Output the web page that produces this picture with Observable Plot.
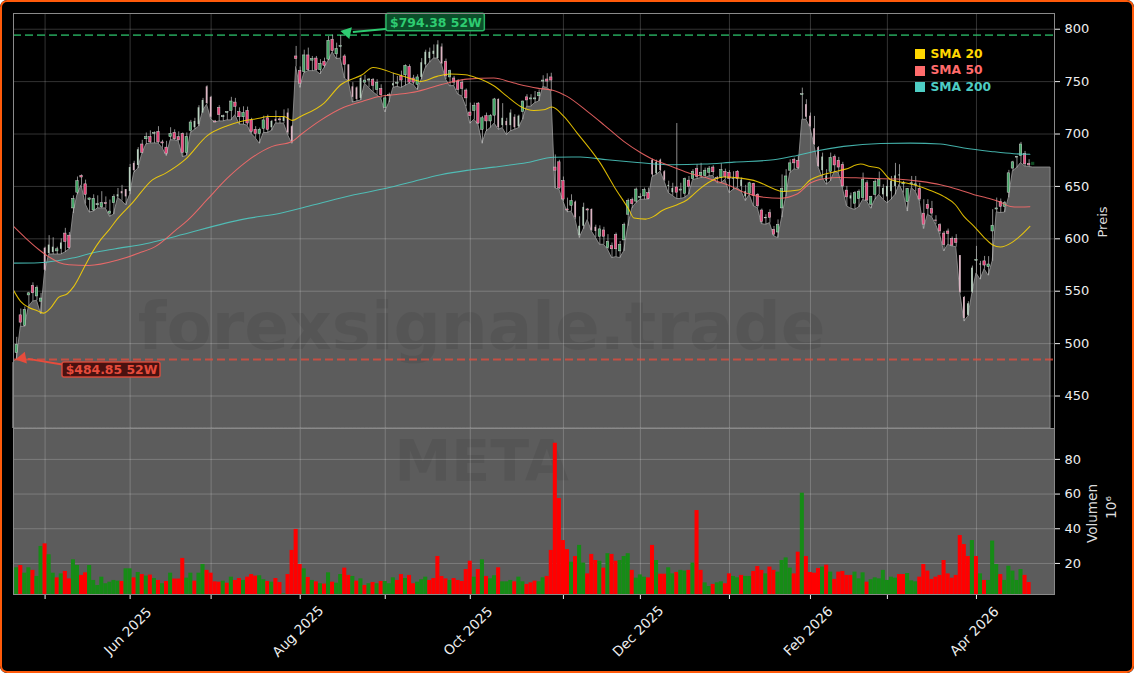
<!DOCTYPE html>
<html><head><meta charset="utf-8">
<script src="https://cdn.jsdelivr.net/npm/d3@7"></script>
<script src="https://cdn.jsdelivr.net/npm/@observablehq/plot@0.6"></script>
<style>
html,body{margin:0;padding:0;background:#fff;width:1134px;height:673px;overflow:hidden}
#fig{position:absolute;left:0;top:0;width:1134px;height:673px;background:#000;border-radius:7px;overflow:hidden;font-family:"DejaVu Sans",sans-serif}
#fig svg{position:absolute;left:0;display:block}
#edge{position:absolute;left:0;top:0;width:1134px;height:673px;box-sizing:border-box;border:2.5px solid #ff5a0a;border-radius:7px;pointer-events:none}
#legend{position:absolute;left:915px;top:46px;font-weight:bold;font-size:12.3px;line-height:16.4px}
#legend div{display:flex;align-items:center;height:16.4px}
#legend i{display:inline-block;width:10px;height:10px;margin-right:5.5px}
</style></head><body>
<div id="fig"><div id="edge"></div></div>
<script>
const opens=[491,527,517,546,555,545,540,591,586,587,
588,590,605,603,629,644,660,652,637,627,
632,630,634,624,634,640,645,647,645,672,
670,690,695,697,700,702,692,687,697,701,
697,700,682,703,706,709,720,745,735,712,
725,716,720,722,730,721,716,722,713,704,
700,705,715,706,714,714,712,720,707,774,
760,759,775,770,772,761,769,771,790,776,
783,774,766,745,744,734,749,751,751.5,742,
743,725,736,746,748,755,756,764,753,747,
754,766,772,776,772,783,769,754,753,750,
749,741.5,720.5,722,729,704,717,712,717.5,733,
708,712,708,716,707,721,735,733,733,736,
750,752,754,668,673,655,628,631.5,635,603,
612,628,628,611,602,608,591,593,603.5,588,
598.5,623,637,635.5,639,640.5,643.5,675,662,675,
664,650,644,649,646,643,655.5,657,666.5,660,
660,663,668,658,658,664,663,657,664,650,
640,643,652.5,642,627,619.5,624.5,608.5,606,629,
645,665,675.5,674.5,737,728,717,705,687,665,
655,664,678,674.5,670.5,646,638,633.5,638,639,
653,632.5,642,650,642,640,645,650,660,652,
635,652,651,647.5,624,632.5,628.5,617.5,613,605,
607,600,600,584,544,527,549,579,575,578.5,
573,607,628,635,630.5,644,667,677.5,679,681,671.5];
const highs=[506,533,535,549,558,555,548,592,603,601,
592,600,610,606,641,659,661,656,639,642,
641,645,640,637,642,648,651,647,671,674,
687,694,701,703,702,707,694,693,706,704,
702,701,701,713,715,727,734,746,736,713,
727,718,721.5,735,734,725,726,725.7,715,707,
705.6,717,718,713,722,716,723,724,708,783.6,
764,780,782,774,774,771,772.4,793,794.38,786.7,
794,775.6,766,749,745,755,756,753,753,751.8,
747,737,739,758,755,760,766,766,756,756.5,
772,780,782,785,789,786,771.5,761,755,751.8,
751.8,743,729.5,729.5,730,716.8,720,718.4,734,733.5,
729,715,723,718.4,718,731.5,737.5,737.5,740.6,742,
755.6,757.5,758,680,675,659,638.8,642,636,621,
634,629,628.5,613,612.4,611,604,596,605.5,597.5,
615,638,638.8,648.4,643,648.4,648.4,676,675,676,
665,655,653,710,653,658,659.5,666,670.7,672,
667.5,669,669.7,659.5,671.6,666.5,665,664,665,658,
651,654,653,643,628.4,623,627.7,611.8,618,661,
666,675.4,677,678.6,743.8,732.7,720,716.8,688,681.8,
666,681.8,680,677.7,673,650,643.6,645,646.8,662.7,
655.4,640.5,656.3,663.7,651.6,656,659.5,672,670.7,654.8,
648,659.5,659.5,653,637.3,637.3,635.7,622,614.4,607,
609.3,601.7,604,584,545,540,574,592.8,578.5,583.2,
583,627.8,638.9,638,635.7,665.3,674,678.6,692,683.4,675.5];
const lows=[485,516,516,535,540,541,528,569,585,585,
585,585,587,590,624,642,651,633,625,626,
629,629,629,621,623,639,636,632,642,663,
667,681,690,691,691,691,686.5,679,694,694,
693,678,679,701,704,707,722,728,714,711,
712,712,713,713,718,709,709,708,700,696,
690.7,701,701,703,710,710,710,699,690.7,764,
744,758,760,760,760,757,763,770,778,771.5,
772,753,750,730,731,732,748,744,740,737,
734,720.6,730,744,745,744,746,748,747,742,
752,763,768,772,772,766,752,745.4,746,737.5,
736,726,709.8,713.6,709,690.7,702.5,705.6,710,704,
705.6,699,702.5,704,705.6,713.6,726,726,729.5,731,
744.8,744,740.6,648,647,635.7,625.2,626,618,600.7,
609,618,607,601,594.3,594.3,589.6,581.6,582.5,581.6,
588,612,629,634,637.3,637.3,637.3,659,661,664,
654.5,643.6,641,638,638,639,642,656,657,658,
658,659.5,660,653,653,656.3,643.6,646.8,648.4,645,
636,642,631,629.3,614,613.4,615,602.3,600.7,620,
640,662.7,666,666,713.6,713.6,705.6,689,668,658,
651.6,654.8,664,662.7,648.4,631,628.7,627.7,630,637,
635.7,628.7,637.3,642,637.3,634,637.3,642,651.6,643.6,
626,648.4,645,635.7,609.3,623,620.8,613.5,604,588,
594.3,592.8,592,548,521,526,548,567,561,571,
564.8,578.5,625.2,624.6,625,639,664.4,667.5,672.3,669,668.5];
const closes=[499,520,532,548,548,553,543,570,594,592,
590,596,597,591,638,655,658.5,642,638.5,638,
633,634,633,626,640,642,643,640,668,665,
685,682,697,692,701,692,691,681,700,695,
694,682,697,711,712,725,732,729,716,711,
718,717,721,731,726,716,720,710,702,700,
704,713,704,712,712,713,716,701,693,771.5,
748,775,761,771.5,761,767,765,789,779,781,
784,766,751,735,733,753,751,752,746,749,
737,734,737,748,749,751,765,749,749,754,
768,778,778,779,785,767,755,760,749,742,
743,734,717,727,710,715,712,717,733,706,
715,708,720,706,717,731,732,734,734,739,
751,750,751,665,648,637.5,627,636,620,612,
630,627,608,607,609,602,597,590,590,594,
613,636,633,647,640,646.5,638,661,673,665,
656,651,648,644,647,657,649.5,664,659,663,
665,667,663.5,657,665.5,659,657,657.5,657,656,
645,653,641,631,616,620,620,604,613,647.5,
659.5,672,672,667.5,738,716,707,690,669,678,
660,677,670,668,650,639.5,641,643.5,645,656,
636.5,640,654,656,648,650,655,660,661,653,
647.5,653,652,637.5,613.5,628.5,624,617,607,594,
604.5,593.5,596,549,524,538,572,580,576,574.5,
575.5,612.5,629,630.5,634,662.5,673,678,690,671,670];
const paleBars=[7,8,9,11,25,26,27,28,29,30,44,45,46,47,48,63,64,66,67,68,82,83,84,85,93,100,101,102,103,104,105,119,120,121,122,123,124,138,139,140,142,143,157,158,159,160,161,162,179,180,195,196,197,198,199,200,206,214,215,216,217,218,233,234,235,236,238];
const volumes=[17.5,18.8,14.4,17.5,16,12.5,29.8,31.3,25,14.4,
11.7,14,15.4,11.1,22.1,18.8,13.1,14.6,18.8,10.2,
7.3,12.1,8.3,9.2,10.2,9.8,9.6,16.9,16.9,11.7,
14.8,13.6,12.7,13.3,11.3,10.2,8.3,9.6,14.4,11,
11,22.9,11.5,14.4,9.8,14.4,19.4,16,14.4,9.4,
9.2,9.8,8.6,12.1,10.2,11.3,10.2,12.1,13.6,12.7,
12.9,10.6,9.6,9.2,11.3,9,2.5,13.6,27.5,39.6,
19.4,16.9,11.9,10.2,9.4,8.3,8.1,14.6,9.2,8.6,
13.6,17.3,13.1,12.5,9.8,11.1,7.3,8.3,9,8.3,
9.6,9.6,8.3,11.7,10.2,13.6,11.3,13.1,8.3,9.2,
10.6,12.1,10.2,11.3,24,12.5,11.1,10.2,11.3,10.2,
9.6,16.5,21.3,12.1,16.5,22.1,12.5,11.1,12.9,17.5,
9.4,9.4,10.2,9.4,12.1,9.4,7.9,8.8,9.8,9.4,
11.7,12.5,27.5,89.3,57.4,33.2,28,20.7,24,30.4,
20.2,14,25.2,21.7,21.3,17.3,25.6,25.2,21.3,21.7,
24,25.6,16,11.5,13.4,12.1,11.7,30.4,21.7,13.8,
13.8,17.5,14,14.8,16,15.6,16,20.2,50.5,16,
8.8,6.7,7.9,8.8,9.4,8.3,14,12.5,11.7,13.1,
12.5,12.5,15.4,18.2,16,14,17.9,16,15,21.7,
23.2,17.3,14,26.5,60.5,24,14.8,14.4,17.1,17.9,
19,15,10.8,15,15.4,13.1,13.1,15,11.1,14.6,
9.2,10.6,11.7,11.1,16,10.2,12.1,11.5,13.6,13.6,
14.2,10,9.4,12.1,19.4,15.6,10.8,12.1,13.1,21.7,
14,11.5,13.1,36.1,30.9,24,33.2,24,14,10.2,
10.2,32.9,19.4,13.6,10.2,18.4,15.6,10.2,16.5,13.1,9];
const redBars=[1,4,7,10,12,13,16,17,26,29,31,33,35,37,39,40,41,44,47,48,49,50,52,54,55,57,58,59,62,64,65,67,68,69,70,72,74,76,78,81,82,84,86,88,90,94,95,97,98,102,103,104,105,106,108,109,110,111,112,114,116,119,123,126,127,128,131,132,133,134,135,136,138,141,142,143,145,147,148,152,156,157,159,160,163,166,168,169,172,175,176,179,182,183,184,186,187,192,193,195,196,197,198,200,202,203,204,205,206,210,218,219,223,224,225,226,227,228,229,230,231,232,233,234,235,237,239,243,249,250];
const sma20=[[-0.78,550.8],[.95,540.3],[3,534.5],[5.07,531.4],[6.7,529.1],[8.35,533.9],[10.4,544.4],[12.5,547.6],[14.1,554.6],[17,575.3],[18.8,588],[20.7,599],[22.8,608.6],[24.8,618.8],[28.5,634],[33.5,656.3],[36.8,662.7],[41.7,676],[47,698.3],[52,707.9],[55.3,712],[60.2,715.2],[61.9,716.8],[66,716.8],[68,713],[70.1,716.8],[75.9,729.5],[80,747],[85.3,756.5],[88,763.5],[93.5,757.5],[96.8,753.4],[99.7,750.2],[103.8,755],[107,757.2],[110.8,756.5],[113.7,753.4],[117.8,746],[121.1,735.9],[124.4,726.3],[127.7,722.5],[130.1,723.1],[132.2,725.7],[135.1,716.8],[138.4,700.9],[141.7,685],[144.1,672.2],[147.5,650],[151.2,627.7],[152.4,619.8],[155.3,618.8],[157.3,621.4],[159.4,627],[163.1,632.5],[165.6,637.3],[168.9,648.4],[172.1,656.3],[174.6,658.9],[178.7,657.9],[182.8,654.8],[186.9,647.8],[189,645.2],[193.1,646.5],[196,656.4],[198.5,660.5],[201.8,663.7],[204.7,666.5],[208.4,671.3],[210.8,669],[212.9,667.5],[215.8,656.4],[219,653.8],[221.5,651.6],[225.6,646.2],[228.9,640.5],[231.8,632.5],[233.9,621.4],[236.4,611.9],[238.8,601.7],[240.9,594.4],[242.9,592.1],[245.8,596.6],[247.9,603],[250.2,611.9]];
const sma50=[[-0.78,611.8],[2.2,600.7],[5.5,589.6],[8,582.6],[10.4,577.5],[12.9,575.3],[17.8,574.6],[25.2,580],[30.2,586.4],[34.3,592.8],[39.2,608],[42.5,618.8],[47,637.3],[52,657.9],[56.5,673],[63.1,688.2],[68,692.9],[70.1,699.3],[75,713],[80.8,725.5],[85.3,731.1],[89.8,736],[93.1,737.5],[98.9,740.6],[103.8,746],[107.9,750.2],[111.2,752.4],[117.8,753.4],[122.8,748.6],[128.5,743.8],[132.6,741.6],[135.9,735.9],[140.9,721.6],[145,708.8],[149.9,693],[154,682.4],[157.3,675.4],[160.6,670.7],[165.6,663.3],[170.5,658],[175.5,651.6],[180.4,643.3],[184.5,639.6],[188.6,638.7],[192.7,642.7],[196,653.2],[199.3,657.3],[203.4,658.6],[209.2,657.9],[217.4,657],[223.2,654.8],[228.1,651.6],[232.7,646.8],[236.4,642.1],[239.6,638.9],[242.5,635.7],[245.4,630.9],[247.9,630.3],[250.2,630.6]];
const sma200=[[-0.78,576.8],[5.5,577.2],[10.4,579.4],[13.7,581.6],[18.6,586.4],[24.4,590.5],[31.8,595.3],[39.2,602.3],[56.1,618.8],[65.1,624.5],[73.4,632.5],[83.3,642],[91.5,648.4],[98,654.8],[104.7,661.1],[111.2,665.3],[117.8,668.4],[126.1,672.9],[132.6,677.8],[139.2,678],[145.8,675.4],[153.2,672.9],[161.5,670.7],[169.7,671.3],[177.1,673.2],[186.9,675.4],[192.7,679.6],[197.7,684],[204.2,688.2],[213.3,691],[220.7,691.3],[228.1,690.5],[233.9,686.6],[240.5,683.4],[246.2,681.2],[250.2,680.6]];
const priceTicks=[450,500,550,600,650,700,750,800];
const volumeTicks=[20,40,60,80];
const monthTicks=[7,28,48,70,91,112,135,154,176,196,215,237];
const monthLabels=[[28,"Jun 2025"],[70,"Aug 2025"],[112,"Oct 2025"],[154,"Dec 2025"],[196,"Feb 2026"],[237,"Apr 2026"]];
const hi52=794.38, lo52=484.85;
const legendItems=[["SMA 20","#FFD700"],["SMA 50","#FF6B6B"],["SMA 200","#4ECDC4"]];

const idx=d3.range(opens.length);
const pale=new Set(paleBars), red=new Set(redBars);
const areaPts=[[-0.78,482],...idx.map(i=>[i,lows[i]]),[251,668],[255.3,668]];
const XD=[-0.8,256.27], ML=13, MR=80;
const GRID={stroke:"#fff",strokeOpacity:.2,strokeWidth:1};
const FONT={fontFamily:"DejaVu Sans"};

const priceChart=Plot.plot({
  width:1134,height:428,marginLeft:ML,marginRight:MR,marginTop:13,marginBottom:0,
  style:{background:"transparent",color:"#eee",...FONT},
  x:{domain:XD,axis:null},
  y:{domain:[419,815],axis:null},
  marks:[
    Plot.areaY(areaPts,{x:"0",y1:419,y2:"1",fill:"#5c5c5c",stroke:"#8f8f8f",strokeWidth:.9}),
    Plot.text(["forexsignale.trade"],{x:114.8,y:515,fontSize:66,fontWeight:"bold",fill:"#000",fillOpacity:.07}),
    Plot.gridY(priceTicks,{...GRID}),
    Plot.gridX(monthTicks,{...GRID}),
    Plot.ruleY([hi52],{stroke:"#2ecc71",strokeOpacity:.7,strokeWidth:1.8,strokeDasharray:"8,4"}),
    Plot.ruleY([lo52],{stroke:"#e74c3c",strokeOpacity:.75,strokeWidth:1.8,strokeDasharray:"8,4"}),
    Plot.ruleX(idx,{x:d=>d,y1:i=>lows[i],y2:i=>highs[i],stroke:"#c4c4c4",strokeWidth:1,strokeOpacity:.7}),
    Plot.rect(idx,{x1:i=>i-(pale.has(i)?.2:.3),x2:i=>i+(pale.has(i)?.2:.3),y1:i=>opens[i],y2:i=>closes[i],
      fill:i=>pale.has(i)?(closes[i]<opens[i]?"#dcb4c2":"#b9d2c0"):(closes[i]<opens[i]?"#e8457a":"#45a868"),
      stroke:i=>pale.has(i)?"none":"#cfcfcf",strokeWidth:.5}),
    Plot.rect([0],{x1:250.6,x2:251.4,y1:670,y2:673,fill:"#0f4a22"}),
    Plot.line(sma200,{x:"0",y:"1",stroke:"#4ECDC4",strokeWidth:1.05,strokeOpacity:.85,curve:"monotone-x"}),
    Plot.line(sma50,{x:"0",y:"1",stroke:"#FF6B6B",strokeWidth:1.05,strokeOpacity:.85,curve:"monotone-x"}),
    Plot.line(sma20,{x:"0",y:"1",stroke:"#FFD700",strokeWidth:1.05,strokeOpacity:.85,curve:"monotone-x"}),
    Plot.link([0],{x1:91.8,y1:hi52+6,x2:83,y2:hi52+3,stroke:"#2ecc71",strokeWidth:2}),
    Plot.dot([0],{x:81.6,y:hi52+2.6,symbol:"triangle",r:4.5,fill:"#2ecc71",rotate:-78}),
    Plot.link([0],{x1:11.6,y1:lo52-5,x2:2.8,y2:lo52+0.6,stroke:"#e74c3c",strokeWidth:2}),
    Plot.dot([0],{x:1.4,y:lo52+1.2,symbol:"triangle",r:4.5,fill:"#e74c3c",rotate:-100}),
    Plot.rect([0],{x1:91.3,x2:115.6,y1:hi52+3.6,y2:hi52+20.4,fill:"#0b4f2a",stroke:"#2ecc71",strokeOpacity:.85,strokeWidth:1.5,rx:2}),
    Plot.text([`$${hi52} 52W`],{x:103.5,y:hi52+12,fill:"#2ecc71",fontSize:12.4,fontWeight:"bold"}),
    Plot.rect([0],{x1:11.3,x2:35.5,y1:lo52-2.8,y2:lo52-17.3,fill:"#4a1210",stroke:"#e74c3c",strokeOpacity:.85,strokeWidth:1.5,rx:2}),
    Plot.text([`$${lo52} 52W`],{x:23.4,y:lo52-10,fill:"#e74c3c",fontSize:12.4,fontWeight:"bold"}),
    Plot.axisY({anchor:"right",ticks:priceTicks,tickSize:5,tickPadding:5,label:null,fontSize:13,color:"#eee"}),
    Plot.text(["Preis"],{frameAnchor:"right",dx:48,dy:1,textAnchor:"middle",rotate:-90,fontSize:13,fill:"#ddd"}),
    Plot.frame({stroke:"#8a8a8a",strokeWidth:1})
  ]
});
const volumeChart=Plot.plot({
  width:1134,height:245,marginLeft:ML,marginRight:MR,marginTop:0,marginBottom:79,
  style:{background:"transparent",color:"#eee",...FONT},
  x:{domain:XD,axis:null},
  y:{domain:[2.1,97.8],axis:null},
  marks:[
    Plot.frame({fill:"#5c5c5c"}),
    Plot.text(["META"],{x:114.8,y:78.2,fontSize:57,fontWeight:"bold",fill:"#000",fillOpacity:.07}),
    Plot.gridY(volumeTicks,{...GRID}),
    Plot.gridX(monthTicks,{...GRID}),
    Plot.rect(idx,{x1:i=>i-.5,x2:i=>i+.5,y1:2.1,y2:i=>volumes[i],fill:i=>red.has(i)?"#ff0000":"#168c16"}),
    Plot.axisY({anchor:"right",ticks:volumeTicks,tickSize:5,tickPadding:5,label:null,fontSize:13,color:"#eee"}),
    Plot.axisX({ticks:monthTicks,tickSize:5,tickFormat:()=>"",label:null,color:"#eee"}),
    Plot.text(monthLabels,{x:"0",text:"1",frameAnchor:"bottom",dy:40,dx:1,rotate:-45,fontSize:13.6,fill:"#eee"}),
    Plot.text(["Volumen"],{frameAnchor:"right",dx:38,dy:2,textAnchor:"middle",rotate:-90,fontSize:13.6,fill:"#ddd"}),
    Plot.text(["10⁶"],{frameAnchor:"right",dx:57,dy:-4,textAnchor:"middle",rotate:-90,fontSize:13.6,fill:"#ddd"}),
    Plot.frame({stroke:"#8a8a8a",strokeWidth:1})
  ]
});
const fig=document.getElementById("fig"), edge=document.getElementById("edge");
priceChart.style.top="0px"; volumeChart.style.top="428px";
fig.insertBefore(priceChart,edge); fig.insertBefore(volumeChart,edge);
const lg=document.createElement("div"); lg.id="legend";
legendItems.forEach(([t,c])=>{const r=document.createElement("div");r.style.color=c;
  const s=document.createElement("i");s.style.background=c;r.appendChild(s);r.appendChild(document.createTextNode(t));lg.appendChild(r);});
fig.insertBefore(lg,edge);
</script>
</body></html>
